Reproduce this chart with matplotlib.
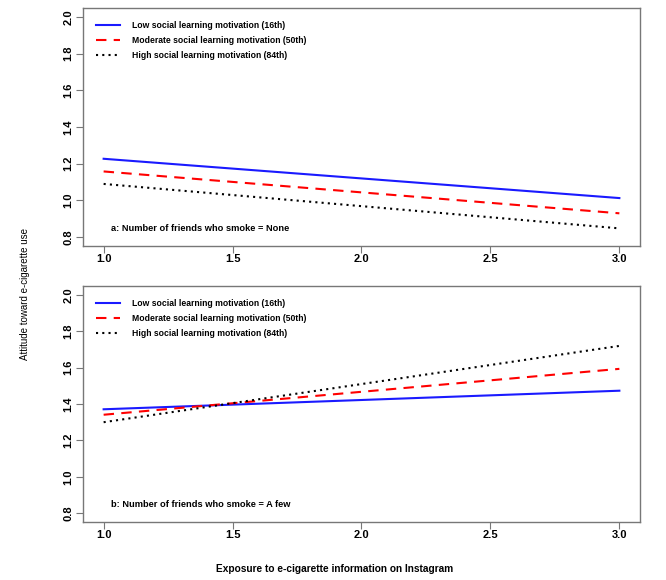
import matplotlib
matplotlib.use("Agg")
import matplotlib.pyplot as plt

plt.rcParams['font.family'] = ['Liberation Sans', 'DejaVu Sans']

# Data
x_vals = [1.0, 3.0]
series_labels = ["Low social learning motivation (16th)",
                 "Moderate social learning motivation (50th)",
                 "High social learning motivation (84th)"]
panel_a_low = [1.227, 1.013]
panel_a_mod = [1.158, 0.930]
panel_a_high = [1.090, 0.848]
panel_b_low = [1.371, 1.473]
panel_b_mod = [1.341, 1.593]
panel_b_high = [1.300, 1.719]
panel_titles = ["a: Number of friends who smoke = None",
                "b: Number of friends who smoke = A few"]
x_ticks = [1.0, 1.5, 2.0, 2.5, 3.0]
y_ticks = [0.8, 1.0, 1.2, 1.4, 1.6, 1.8, 2.0]
x_label = "Exposure to e-cigarette information on Instagram"
y_label = "Attitude toward e-cigarette use"

W, H = 666, 580
fig = plt.figure(figsize=(W / 100, H / 100), dpi=100)

def px_axes(left, top, right, bottom):
    return fig.add_axes([left / W, 1 - bottom / H, (right - left) / W, (bottom - top) / H])

ax_a = px_axes(83, 8, 640, 246)
ax_b = px_axes(83, 286, 640, 522)

styles = [dict(color='#1a1aff', ls='-', lw=1.5),
          dict(color='#ff0000', ls=(0, (5, 3.5)), lw=1.5),
          dict(color='#000000', ls=(0, (1, 2)), lw=1.5)]

panels = [(ax_a, [panel_a_low, panel_a_mod, panel_a_high], panel_titles[0]),
          (ax_b, [panel_b_low, panel_b_mod, panel_b_high], panel_titles[1])]

spine_col = '#777777'
for ax, series, title in panels:
    for vals, st, lab in zip(series, styles, series_labels):
        ax.plot(x_vals, vals, label=lab, **st)
    ax.set_xlim(0.92, 3.08)
    ax.set_ylim(0.752, 2.048)
    ax.set_xticks(x_ticks)
    ax.set_xticklabels([f"{v:.1f}" for v in x_ticks], fontsize=8, fontweight='bold')
    ax.set_yticks(y_ticks)
    ax.set_yticklabels([f"{v:.1f}" for v in y_ticks], fontsize=8, fontweight='bold',
                       rotation=90, va='center')
    ax.tick_params(axis='x', direction='out', length=5, width=0.8, color=spine_col, pad=1)
    ax.tick_params(axis='y', direction='out', length=5, width=0.8, color=spine_col, pad=2)
    for s in ax.spines.values():
        s.set_color(spine_col)
        s.set_linewidth(1.0)
    ax.legend(loc='upper left', bbox_to_anchor=(13 / 557, 1 - 13 / 238), frameon=False,
              prop=dict(size=6.2, weight='bold'), handlelength=2.8, handletextpad=1.35,
              borderaxespad=0.0, borderpad=0.0, labelspacing=0.7)
    ax.text(28 / 557, 0.075, title, transform=ax.transAxes, fontsize=6.7, fontweight='bold',
            ha='left', va='center')

fig.text(25 / W, 1 - 294 / H, y_label, rotation=90, ha='center', va='center', fontsize=7)
fig.text(335 / W, 1 - 569 / H, x_label, ha='center', va='center', fontsize=7.3, fontweight='bold')

fig.savefig("out.png", dpi=100, facecolor='white')
